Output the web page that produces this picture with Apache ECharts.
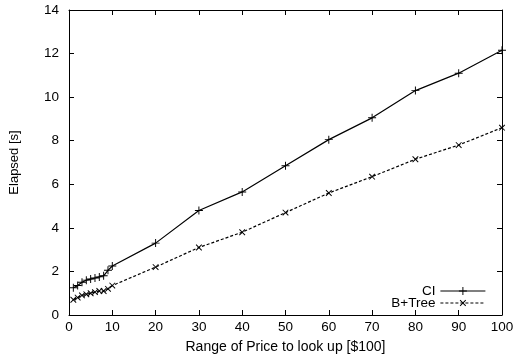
<!DOCTYPE html>
<html>
<head>
<meta charset="utf-8">
<script src="https://cdn.jsdelivr.net/npm/echarts@6/dist/echarts.min.js"></script>
<style>
  html, body { margin: 0; padding: 0; background: #fff; }
  #chart { width: 526px; height: 364px; }
</style>
</head>
<body>
<div id="chart"></div>
<script>
// range of price [$100]
const ranges = [1, 2, 3, 4, 5, 6, 7, 8, 9, 10, 20, 30, 40, 50, 60, 70, 80, 90, 100]
const ciElapsed = [1.25, 1.35, 1.5, 1.6, 1.65, 1.7, 1.75, 1.8, 2.05, 2.25, 3.3, 4.8, 5.65, 6.85, 8.05, 9.05, 10.3, 11.1, 12.15]
const btreeElapsed = [0.7, 0.8, 0.9, 0.95, 1.0, 1.05, 1.1, 1.1, 1.2, 1.35, 2.2, 3.1, 3.8, 4.7, 5.6, 6.35, 7.15, 7.8, 8.6]

const plusPath = 'path://M4.4,0H5.6V4.4H10V5.6H5.6V10H4.4V5.6H0V4.4H4.4Z'
const font = 'Liberation Sans, Arial, sans-serif'

const pairs = (ys) => ranges.map((x, i) => [x, ys[i]])

const frameAxis = (extra) => Object.assign({
  axisLine: { show: true, onZero: false, lineStyle: { color: '#000', width: 1 } },
  axisTick: { show: true, inside: true, length: 5, lineStyle: { color: '#000' } },
  splitLine: { show: false },
  axisLabel: { color: '#000', fontFamily: font, fontSize: 13.5 },
}, extra)

const chart = echarts.init(document.getElementById('chart'), null, { renderer: 'canvas' })

chart.setOption({
  animation: false,
  backgroundColor: '#fff',
  grid: { left: 69, right: 24, top: 10, bottom: 49 },
  legend: {
    orient: 'vertical',
    align: 'right',
    right: 35,
    top: 279,
    itemWidth: 45,
    itemHeight: 10,
    itemGap: -2,
    textStyle: { color: '#000', fontFamily: font, fontSize: 13.5 },
    lineStyle: { width: 1.2 },
    data: ['CI', 'B+Tree'],
  },
  xAxis: [
    frameAxis({
      type: 'value', min: 0, max: 100, interval: 10,
      name: 'Range of Price to look up [$100]',
      nameLocation: 'middle', nameGap: 25,
      nameTextStyle: { color: '#000', fontFamily: font, fontSize: 14 },
      axisLabel: { color: '#000', fontFamily: font, fontSize: 13.5, margin: 5 },
    }),
    frameAxis({ type: 'value', position: 'top', min: 0, max: 100, interval: 10, axisLabel: { show: false } }),
  ],
  yAxis: [
    frameAxis({
      type: 'value', min: 0, max: 14, interval: 2,
      name: 'Elapsed [s]',
      nameLocation: 'middle', nameGap: 48,
      nameTextStyle: { color: '#000', fontFamily: font, fontSize: 13 },
      axisLabel: { color: '#000', fontFamily: font, fontSize: 13.5, margin: 10 },
    }),
    frameAxis({ type: 'value', position: 'right', min: 0, max: 14, interval: 2, axisLabel: { show: false } }),
  ],
  series: [
    {
      name: 'CI',
      type: 'line',
      data: pairs(ciElapsed),
      symbol: plusPath,
      symbolSize: 8,
      showAllSymbol: true,
      itemStyle: { color: '#000' },
      lineStyle: { color: '#000', width: 1.2 },
    },
    {
      name: 'B+Tree',
      type: 'line',
      data: pairs(btreeElapsed),
      symbol: plusPath,
      symbolSize: 8,
      symbolRotate: 45,
      showAllSymbol: true,
      itemStyle: { color: '#000' },
      lineStyle: { color: '#000', width: 1.2, type: [3, 2] },
    },
  ],
})

window.addEventListener('resize', () => chart.resize())
</script>
</body>
</html>
